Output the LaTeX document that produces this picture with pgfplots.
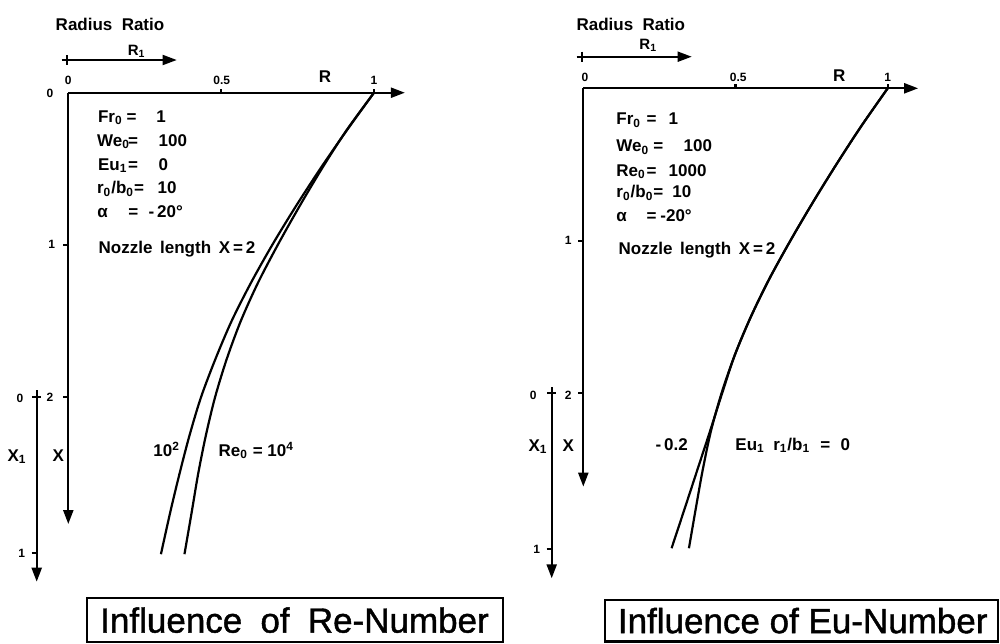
\documentclass[border=0pt]{standalone}
\usepackage{pgfplots}
\pgfplotsset{compat=1.18}
\usepackage{pgfplotstable}
\usetikzlibrary{arrows.meta}
\usepackage{fontspec}
\setmainfont{Liberation Sans}
\newfontfamily\titlefont[FakeBold=1.2]{Liberation Sans}
\newcommand\labfont{\bfseries\fontsize{8.5}{10}\selectfont}
\newcommand\tickfont{\bfseries\fontsize{6}{7}\selectfont}

% Jet radius R against axial distance X, Reynolds number varied
\pgfplotstableread{
X     R
0.00  1.000
0.25  0.910
0.50  0.824
0.75  0.743
1.00  0.667
1.25  0.597
1.50  0.534
1.75  0.481
2.00  0.434
2.25  0.3965
2.50  0.364
2.75  0.334
3.03  0.303
}\reLow
\pgfplotstableread{
X     R
0.00  1.000
0.25  0.909
0.50  0.829
0.75  0.755
1.00  0.685
1.25  0.620
1.50  0.564
1.75  0.518
2.00  0.480
2.25  0.450
2.50  0.425
2.75  0.404
3.03  0.380
}\reHigh
% Euler number varied
\pgfplotstableread{
X     R
0.00  1.000
0.25  0.9125
0.50  0.831
0.75  0.7535
1.00  0.680
1.25  0.611
1.50  0.550
1.75  0.4975
2.00  0.454
2.25  0.419
2.50  0.3925
2.75  0.370
3.016 0.347
}\euZero
\pgfplotstableread{
X     R
0.00  1.000
0.25  0.9125
0.50  0.831
0.75  0.7535
1.00  0.680
1.25  0.611
1.50  0.550
1.75  0.4975
2.00  0.456
2.25  0.416
2.50  0.375
2.75  0.334
3.016 0.290
}\euNeg

\pgfplotsset{
  jetaxis/.style={hide axis, clip=false, y dir=reverse,
    xmin=0, xmax=1.1, ymin=0, ymax=3.1, anchor=origin},
  jet/.style={black, line width=1.1pt, smooth, no marks},
}
\tikzset{
  axline/.style={line width=1.1pt, black},
  arr/.style={axline, -{Triangle[length=7pt,width=5pt]}},
}

\begin{document}
\begin{tikzpicture}
\useasboundingbox (0,0) rectangle (500pt,-321.5pt);

% ---------- Re-number panel ----------
\begin{axis}[jetaxis, at={(34.15pt,-46.35pt)}, x=152.85pt, y=76.15pt]
  \addplot[jet] table[x=R, y=X] {\reLow};
  \addplot[jet] table[x=R, y=X] {\reHigh};
  \draw[arr] (axis cs:0,0) -- (axis cs:1.101,0);
  \draw[arr] (axis cs:0,0) -- (axis cs:0,2.832);
  \draw[axline] (axis cs:0.5,0) -- ++(0,2pt);
  \draw[axline] (axis cs:1,0) -- ++(0,2pt);
  \draw[axline] (axis cs:0,1) -- ++(-2.5pt,0);
  \draw[axline] (axis cs:0,2) -- ++(-2.5pt,0);
\end{axis}

% ---------- Eu-number panel ----------
\begin{axis}[jetaxis, at={(291.65pt,-44.15pt)}, x=152.2pt, y=76.25pt]
  \addplot[jet] table[x=R, y=X] {\euZero};
  \addplot[jet] table[x=R, y=X] {\euNeg};
  \draw[arr] (axis cs:0,0) -- (axis cs:1.10,0);
  \draw[arr] (axis cs:0,0) -- (axis cs:0,2.612);
  \draw[axline] (axis cs:0.5,0) -- ++(0,2pt);
  \draw[axline] (axis cs:1,0) -- ++(0,2pt);
  \draw[axline] (axis cs:0,1) -- ++(-2.5pt,0);
  \draw[axline] (axis cs:0,2) -- ++(-2.5pt,0);
\end{axis}

\begin{scope}[x=0.5pt, y=-0.5pt, every node/.style={inner sep=0pt},
  lab/.style={font=\labfont, yshift=-3.05pt},
  tk/.style={font=\tickfont, yshift=-2.15pt}]
  % ----- left panel annotations -----
  \node[lab, anchor=base] at (110,24) {Radius\hspace{0.55em}Ratio};
  \node[lab, anchor=base, font=\bfseries\fontsize{7.5}{9}\selectfont] at (136.7,49.3) {R\textsubscript{1}};
  \draw[arr, line width=0.9pt] (61.7,60) -- (176.7,60);
  \draw[axline, line width=0.9pt] (67,55) -- (67,65);
  \node[tk, anchor=base] at (68.3,80) {0};
  \node[tk, anchor=base] at (221.7,80) {0.5};
  \node[tk, anchor=base] at (374,80) {1};
  \node[lab, anchor=base] at (325,76) {R};
  \node[tk, anchor=base] at (50,92.7) {0};
  \node[tk, anchor=base] at (51.7,244.3) {1};
  \node[tk, anchor=base] at (50,397.3) {2};
  \node[tk, anchor=base] at (20,398.3) {0};
  \node[tk, anchor=base] at (21.7,553.3) {1};
  \node[lab, anchor=base] at (17,455) {X\textsubscript{1}};
  \node[lab, anchor=base] at (58.3,455) {X};
  \draw[arr] (36.7,390) -- (36.7,581.7);
  \draw[axline] (32.2,397.3) -- (41.2,397.3);
  \draw[axline] (31.5,553.3) -- (36.7,553.3);

  \node[lab, anchor=base west] at (97.7,116) {Fr\textsubscript{0}};
  \node[lab, anchor=base] at (131.7,116) {=};
  \node[lab, anchor=base] at (161,116) {1};
  \node[lab, anchor=base west] at (96.7,140) {We\textsubscript{0}};
  \node[lab, anchor=base] at (133,140) {=};
  \node[lab, anchor=base west] at (158.3,140) {100};
  \node[lab, anchor=base west] at (97.7,164) {Eu\textsubscript{1}};
  \node[lab, anchor=base] at (133,164) {=};
  \node[lab, anchor=base] at (163.3,164) {0};
  \node[lab, anchor=base west] at (96.7,187.7) {r\textsubscript{0}/b\textsubscript{0}=};
  \node[lab, anchor=base west] at (157.3,187.7) {10};
  \node[lab, anchor=base] at (102.5,211.7) {α};
  \node[lab, anchor=base] at (133.3,211.7) {=};
  \node[lab, anchor=base west] at (148.3,211.7) {-\,20°};
  \node[lab, anchor=base west] at (98.3,247.3) {Nozzle\hspace{0.45em}length\hspace{0.45em}X\,=\,2};
  \node[lab, anchor=base] at (166.7,450) {10\textsuperscript{2}};
  \node[lab, anchor=base west] at (218.3,450) {Re\textsubscript{0} = 10\textsuperscript{4}};

  \draw[line width=1.1pt] (86.7,598.3) rectangle (503.3,641.7);
  \node[font=\titlefont\fontsize{17.5}{20}\selectfont, anchor=base, yshift=-6.3pt] at (294.5,620)
    {Influence\hspace{0.52em}of\hspace{0.52em}Re-Number};

  % ----- right panel annotations -----
  \node[lab, anchor=base] at (630.8,24) {Radius\hspace{0.55em}Ratio};
  \node[lab, anchor=base, font=\bfseries\fontsize{7.5}{9}\selectfont] at (648.3,43.3) {R\textsubscript{1}};
  \draw[arr, line width=0.9pt] (576.7,56.7) -- (691.7,56.7);
  \draw[axline, line width=0.9pt] (582,51.7) -- (582,61.7);
  \node[tk, anchor=base] at (585,77.3) {0};
  \node[tk, anchor=base] at (738.3,77.3) {0.5};
  \node[tk, anchor=base] at (887.7,77.3) {1};
  \node[lab, anchor=base] at (839.3,75) {R};
  \node[tk, anchor=base] at (568.3,240) {1};
  \node[tk, anchor=base] at (568.3,395) {2};
  \node[tk, anchor=base] at (533.3,395) {0};
  \node[tk, anchor=base] at (536.7,549.3) {1};
  \node[lab, anchor=base] at (538,445) {X\textsubscript{1}};
  \node[lab, anchor=base] at (568.3,445) {X};
  \draw[arr] (551.7,387) -- (551.7,578.3);
  \draw[axline] (547.2,393.3) -- (556.2,393.3);
  \draw[axline] (546.5,549.3) -- (551.7,549.3);

  \node[lab, anchor=base west] at (616,118.3) {Fr\textsubscript{0}};
  \node[lab, anchor=base] at (651.7,118.3) {=};
  \node[lab, anchor=base] at (673.3,118.3) {1};
  \node[lab, anchor=base west] at (616,145.7) {We\textsubscript{0}};
  \node[lab, anchor=base] at (658.3,145.7) {=};
  \node[lab, anchor=base west] at (683.3,145.7) {100};
  \node[lab, anchor=base west] at (616,170) {Re\textsubscript{0}};
  \node[lab, anchor=base] at (651.7,170) {=};
  \node[lab, anchor=base west] at (668.3,170) {1000};
  \node[lab, anchor=base west] at (616,191.7) {r\textsubscript{0}/b\textsubscript{0}=};
  \node[lab, anchor=base west] at (672,191.7) {10};
  \node[lab, anchor=base] at (621.7,215) {α};
  \node[lab, anchor=base] at (651.7,215) {=};
  \node[lab, anchor=base west] at (660,215) {-20°};
  \node[lab, anchor=base west] at (618.3,248.3) {Nozzle\hspace{0.45em}length\hspace{0.45em}X\,=\,2};
  \node[lab, anchor=base] at (671.7,444) {-\,0.2};
  \node[lab, anchor=base west] at (735,444) {Eu\textsubscript{1}\hspace{0.5em}r\textsubscript{1}/b\textsubscript{1}\hspace{0.6em}=\hspace{0.6em}0};

  \draw[line width=1.1pt] (605,600) rectangle (998,641.5);
  \node[font=\titlefont\fontsize{17.5}{20}\selectfont, anchor=base, yshift=-6.3pt] at (802.7,620.5)
    {Influence of Eu-Number};
\end{scope}
\end{tikzpicture}
\end{document}
